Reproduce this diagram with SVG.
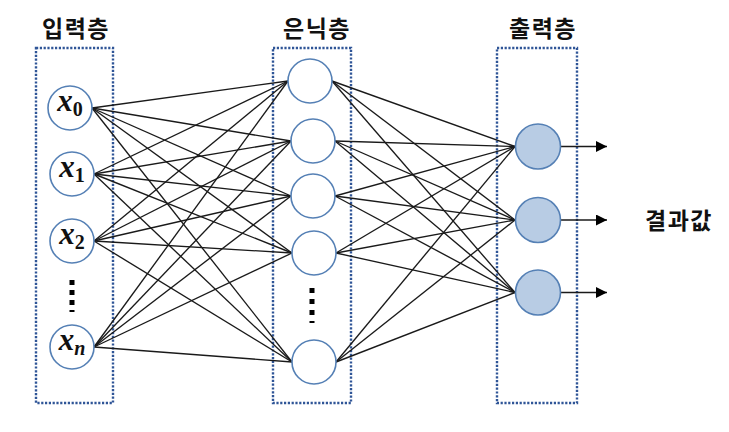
<svg xmlns="http://www.w3.org/2000/svg" width="729" height="432" viewBox="0 0 729 432">
<style>
.box{fill:none;stroke:#2f5597;stroke-width:2.4;stroke-dasharray:2.2 1.6}
.in,.hid{fill:#fff;stroke:#5580b5;stroke-width:1.6}
.out{fill:#b8cce4;stroke:#5580b5;stroke-width:1.6}
.c line{stroke:#1a1a1a;stroke-width:1.35}
.arr{stroke:#000;stroke-width:1.6;marker-end:url(#ah)}
.hd{font-family:"Noto Sans CJK KR","Noto Sans",sans-serif;font-size:23px;font-weight:bold;fill:#111;text-anchor:middle;letter-spacing:1.5px}
.xl{font-family:"Liberation Serif","DejaVu Serif",serif;font-size:31px;font-style:italic;font-weight:bold;fill:#111;text-anchor:middle}
.sb{font-size:20px;font-style:normal}
.sbi{font-size:20px;font-style:italic}
.dot{fill:#000}
</style>
<defs>
<marker id="ah" markerWidth="12" markerHeight="12" refX="11" refY="5.5" orient="auto" markerUnits="userSpaceOnUse">
<path d="M0,0 L11,5.5 L0,11 Z" fill="#000"/>
</marker>
</defs>

<g id="headers">
<text class="hd" x="76" y="37">입력층</text>
<text class="hd" x="317" y="37">은닉층</text>
<text class="hd" x="543" y="37">출력층</text>
<text class="hd" x="679" y="229">결과값</text>
</g>

<g id="layer-boxes">
<rect class="box" x="36" y="48" width="77" height="355"/>
<rect class="box" x="273" y="48" width="78" height="355"/>
<rect class="box" x="497" y="48" width="80" height="355"/>
</g>

<g id="connectors" class="c">
<line x1="92" y1="108" x2="288" y2="81"/>
<line x1="92" y1="108" x2="291" y2="141"/>
<line x1="92" y1="108" x2="291" y2="196"/>
<line x1="92" y1="108" x2="292" y2="253"/>
<line x1="92" y1="108" x2="292" y2="362"/>
<line x1="94" y1="174" x2="288" y2="81"/>
<line x1="94" y1="174" x2="291" y2="141"/>
<line x1="94" y1="174" x2="291" y2="196"/>
<line x1="94" y1="174" x2="292" y2="253"/>
<line x1="94" y1="174" x2="292" y2="362"/>
<line x1="94" y1="241" x2="288" y2="81"/>
<line x1="94" y1="241" x2="291" y2="141"/>
<line x1="94" y1="241" x2="291" y2="196"/>
<line x1="94" y1="241" x2="292" y2="253"/>
<line x1="94" y1="241" x2="292" y2="362"/>
<line x1="94" y1="347" x2="288" y2="81"/>
<line x1="94" y1="347" x2="291" y2="141"/>
<line x1="94" y1="347" x2="291" y2="196"/>
<line x1="94" y1="347" x2="292" y2="253"/>
<line x1="94" y1="347" x2="292" y2="362"/>
<line x1="332" y1="81" x2="515" y2="146.5"/>
<line x1="332" y1="81" x2="515" y2="220"/>
<line x1="332" y1="81" x2="515" y2="292.5"/>
<line x1="335" y1="141" x2="515" y2="146.5"/>
<line x1="335" y1="141" x2="515" y2="220"/>
<line x1="335" y1="141" x2="515" y2="292.5"/>
<line x1="335" y1="196" x2="515" y2="146.5"/>
<line x1="335" y1="196" x2="515" y2="220"/>
<line x1="335" y1="196" x2="515" y2="292.5"/>
<line x1="336" y1="253" x2="515" y2="146.5"/>
<line x1="336" y1="253" x2="515" y2="220"/>
<line x1="336" y1="253" x2="515" y2="292.5"/>
<line x1="336" y1="362" x2="515" y2="146.5"/>
<line x1="336" y1="362" x2="515" y2="220"/>
<line x1="336" y1="362" x2="515" y2="292.5"/>
<line class="arr" x1="561" y1="146.5" x2="607" y2="146.5"/>
<line class="arr" x1="561" y1="220" x2="607" y2="220"/>
<line class="arr" x1="561" y1="292.5" x2="607" y2="292.5"/>
</g>

<g id="x0"><circle class="in" cx="70" cy="108" r="22"/><text class="xl" x="70" y="111">x<tspan class="sb" dy="5">0</tspan></text></g>
<g id="x1"><circle class="in" cx="72" cy="174" r="22"/><text class="xl" x="72" y="177">x<tspan class="sb" dy="5">1</tspan></text></g>
<g id="x2"><circle class="in" cx="72" cy="241" r="22"/><text class="xl" x="72" y="244">x<tspan class="sb" dy="5">2</tspan></text></g>
<g id="input-dots">
<rect class="dot" x="69.5" y="280" width="5" height="5"/>
<rect class="dot" x="69.5" y="290" width="5" height="5"/>
<rect class="dot" x="69.5" y="300" width="5" height="5"/>
<rect class="dot" x="69.5" y="310" width="5" height="2"/>
</g>
<g id="xn"><circle class="in" cx="72" cy="347" r="22"/><text class="xl" x="72" y="350">x<tspan class="sbi" dy="5">n</tspan></text></g>

<g id="h0"><circle class="hid" cx="310" cy="81" r="22"/></g>
<g id="h1"><circle class="hid" cx="313" cy="141" r="22"/></g>
<g id="h2"><circle class="hid" cx="313" cy="196" r="22"/></g>
<g id="h3"><circle class="hid" cx="314" cy="253" r="22"/></g>
<g id="hidden-dots">
<rect class="dot" x="309.5" y="288" width="5" height="5"/>
<rect class="dot" x="309.5" y="299" width="5" height="5"/>
<rect class="dot" x="309.5" y="310" width="5" height="5"/>
<rect class="dot" x="309.5" y="321" width="5" height="2"/>
</g>
<g id="hn"><circle class="hid" cx="314" cy="362" r="22"/></g>

<g id="o0"><circle class="out" cx="538" cy="146.5" r="22.5"/></g>
<g id="o1"><circle class="out" cx="538" cy="220" r="22.5"/></g>
<g id="o2"><circle class="out" cx="538" cy="292.5" r="22.5"/></g>
</svg>
